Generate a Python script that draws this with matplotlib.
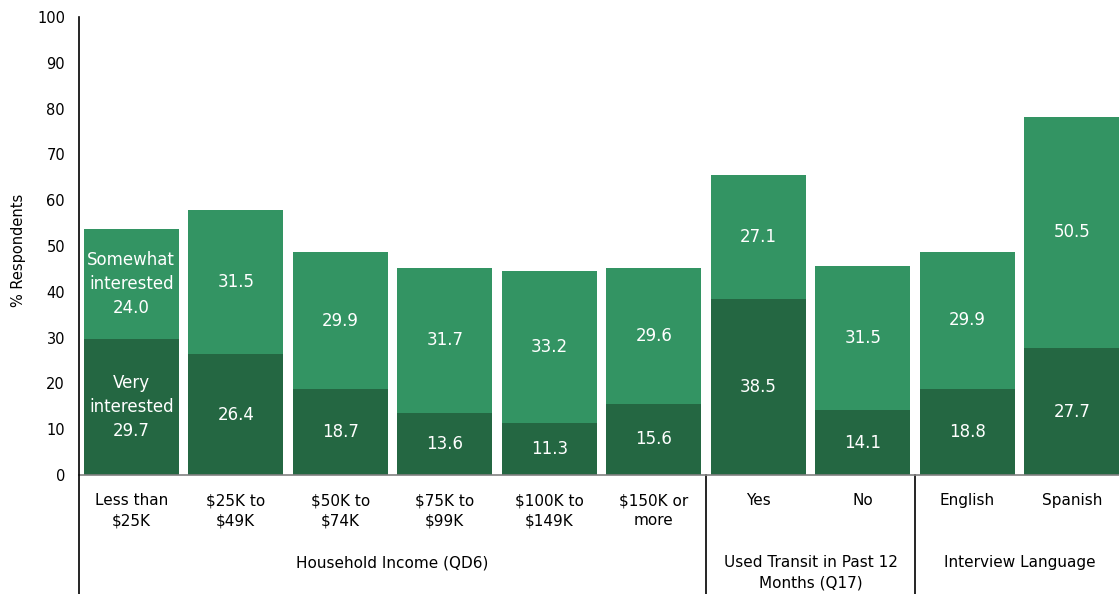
import matplotlib.pyplot as plt
from matplotlib.lines import Line2D

# Share of respondents interested, by subgroup
categories = ['Less than\n$25K', '$25K to\n$49K', '$50K to\n$74K', '$75K to\n$99K',
              '$100K to\n$149K', '$150K or\nmore', 'Yes', 'No', 'English', 'Spanish']
very = [29.7, 26.4, 18.7, 13.6, 11.3, 15.6, 38.5, 14.1, 18.8, 27.7]
somewhat = [24.0, 31.5, 29.9, 31.7, 33.2, 29.6, 27.1, 31.5, 29.9, 50.5]
groups = ['Household Income (QD6)', 'Used Transit in Past 12\nMonths (Q17)', 'Interview Language']
group_sizes = [6, 2, 2]

dark = '#246742'
light = '#339463'

plt.rcParams['font.family'] = 'DejaVu Sans'

fig = plt.figure(figsize=(11.19, 5.94), dpi=100)
ax = fig.add_axes([79 / 1119, 1 - 475 / 594, 1045 / 1119, (475 - 17) / 594])

x = list(range(len(categories)))
w = 0.91
ax.bar(x, very, width=w, color=dark)
ax.bar(x, somewhat, width=w, bottom=very, color=light)

for i in x:
    v, s = very[i], somewhat[i]
    if i == 0:
        vt = 'Very\ninterested\n%.1f' % v
        st = 'Somewhat\ninterested\n%.1f' % s
    else:
        vt = '%.1f' % v
        st = '%.1f' % s
    ax.text(i, v / 2, vt, ha='center', va='center', color='white', fontsize=12,
            linespacing=1.4)
    ax.text(i, v + s / 2, st, ha='center', va='center', color='white', fontsize=12,
            linespacing=1.4)

ax.set_xlim(-0.5, len(categories) - 0.5)
ax.set_ylim(0, 100)
ax.set_yticks(range(0, 101, 10))
ax.tick_params(axis='y', length=0, labelsize=10.5, pad=10)
ax.tick_params(axis='x', length=0, labelsize=11, pad=13)
ax.set_xticks(x)
ax.set_xticklabels(categories, linespacing=1.45)
ax.set_ylabel('% Respondents', fontsize=10.5)
ax.yaxis.set_label_coords(-0.051, 0.49)

for sp in ['top', 'right', 'left']:
    ax.spines[sp].set_visible(False)
ax.spines['bottom'].set_color('#808080')
ax.spines['bottom'].set_linewidth(1.2)

# left axis line runs down through the group label area
fig.add_artist(Line2D([79 / 1119, 79 / 1119], [0, 1 - 17 / 594], color='black', lw=1.2))

# group separators and group titles
start = 0
for name, n in zip(groups, group_sizes):
    end = start + n
    ax.text((start + end - 1) / 2, -17.5, name, ha='center', va='top', fontsize=11,
            linespacing=1.45)
    if end < len(categories):
        xs = end - 0.5
        ax.plot([xs, xs], [0, -30], color='black', lw=1.2, clip_on=False)
    start = end

fig.savefig('out.png', dpi=100)
